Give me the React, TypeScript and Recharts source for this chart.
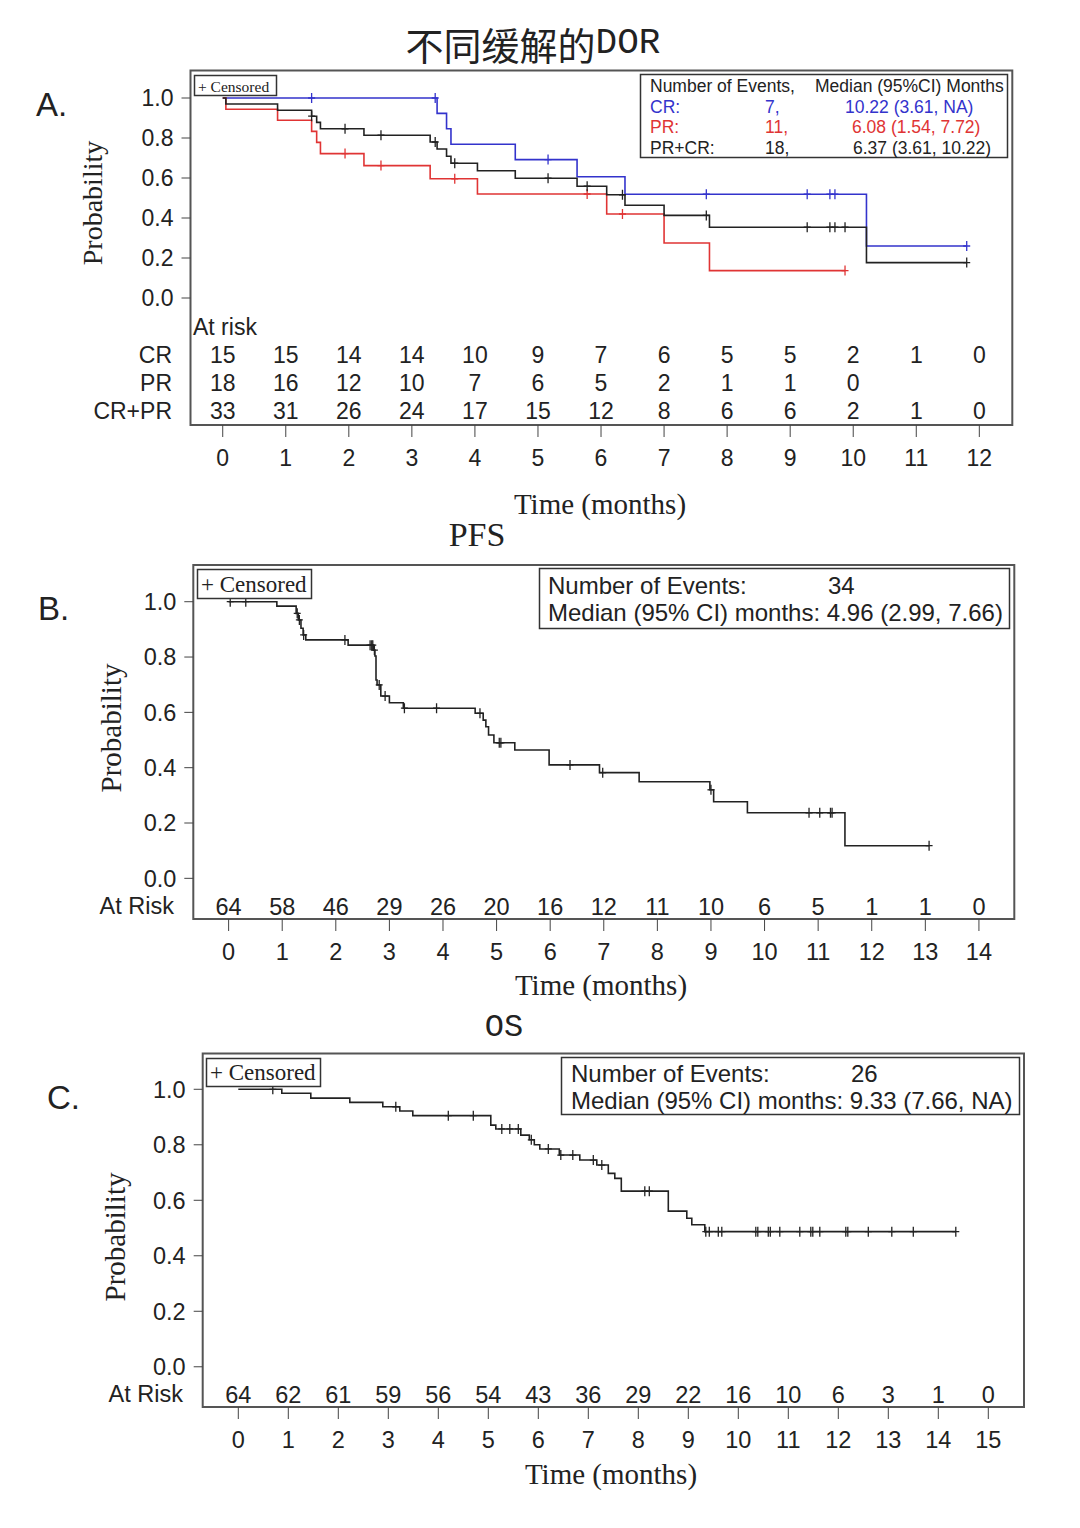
import { ComposedChart, Line, Scatter, XAxis, YAxis, ReferenceArea } from 'recharts';

const SANS = '"Liberation Sans", Arial, sans-serif';
const SERIF = '"Liberation Serif", "Times New Roman", serif';
const MONO = '"Liberation Mono", monospace';
const CJK = '"Noto Sans CJK SC", sans-serif';
const INK = '#222';
const FRAME = '#555';
const BLUE = '#3333cc';
const RED = '#e03434';

// ---- A: duration of response by response type ----
const dorMonths = [0, 1, 2, 3, 4, 5, 6, 7, 8, 9, 10, 11, 12];

const crTimes = [0, 3.40, 3.55, 3.62, 4.64, 5.62, 6.38, 10.21];
const crSurv = [1.0, 0.923, 0.846, 0.769, 0.692, 0.606, 0.519, 0.26];
const crCensored = [1.41, 3.37, 5.16, 7.67, 9.27, 9.63, 9.71, 11.8];

const prTimes = [0, 0.05, 0.87, 1.41, 1.49, 1.55, 2.24, 3.29, 4.04, 6.09, 7.0, 7.72];
const prSurv = [1.0, 0.944, 0.889, 0.833, 0.778, 0.722, 0.662, 0.596, 0.52, 0.42, 0.275, 0.137];
const prCensored = [1.94, 2.51, 3.68, 5.78, 6.34, 9.87];

const bothTimes = [0, 0.05, 0.87, 1.41, 1.49, 1.55, 2.24, 3.29, 3.40, 3.55, 3.62, 4.04, 4.64, 5.62, 6.09, 6.38, 7.0, 7.72, 10.21];
const bothSurv = [1.0, 0.970, 0.939, 0.909, 0.878, 0.846, 0.814, 0.780, 0.745, 0.709, 0.674, 0.636, 0.599, 0.559, 0.516, 0.464, 0.413, 0.354, 0.177];
const bothCensored = [1.41, 1.94, 2.51, 3.37, 3.68, 5.16, 5.78, 6.34, 7.67, 9.27, 9.63, 9.71, 9.87, 11.8];

const riskCR = [15, 15, 14, 14, 10, 9, 7, 6, 5, 5, 2, 1, 0];
const riskPR = [18, 16, 12, 10, 7, 6, 5, 2, 1, 1, 0];
const riskBoth = [33, 31, 26, 24, 17, 15, 12, 8, 6, 6, 2, 1, 0];

// ---- B: PFS ----
const pfsMonths = [0, 1, 2, 3, 4, 5, 6, 7, 8, 9, 10, 11, 12, 13, 14];
const pfsTimes = [0, 0.90, 1.26, 1.30, 1.35, 1.39, 1.44, 2.23, 2.70, 2.73, 2.75, 2.77, 2.84, 3.00, 3.26, 4.60, 4.75, 4.80, 4.85, 4.95, 5.34, 5.98, 6.92, 7.66, 8.98, 9.05, 9.68, 11.50];
const pfsSurv = [1.0, 0.984, 0.958, 0.934, 0.904, 0.880, 0.862, 0.843, 0.825, 0.804, 0.717, 0.699, 0.659, 0.635, 0.615, 0.597, 0.572, 0.548, 0.518, 0.490, 0.464, 0.41, 0.382, 0.349, 0.32, 0.277, 0.237, 0.118];
const pfsCensored = [0.03, 0.32, 1.28, 1.32, 1.40, 2.17, 2.64, 2.67, 2.69, 2.72, 2.81, 2.92, 3.28, 3.88, 4.69, 5.05, 5.08, 6.37, 6.98, 9.00, 10.83, 11.03, 11.23, 11.26, 13.07];
const pfsRisk = [64, 58, 46, 29, 26, 20, 16, 12, 11, 10, 6, 5, 1, 1, 0];

// ---- C: OS ----
const osMonths = [0, 1, 2, 3, 4, 5, 6, 7, 8, 9, 10, 11, 12, 13, 14, 15];
const osTimes = [0, 0.87, 1.45, 2.23, 2.89, 3.23, 3.49, 5.05, 5.15, 5.65, 5.82, 5.92, 6.03, 6.42, 6.83, 7.17, 7.40, 7.53, 7.66, 8.60, 8.97, 9.07, 9.33];
const osSurv = [1.0, 0.986, 0.968, 0.953, 0.937, 0.922, 0.905, 0.871, 0.857, 0.835, 0.818, 0.80, 0.785, 0.763, 0.745, 0.727, 0.697, 0.679, 0.633, 0.561, 0.535, 0.512, 0.487];
const osCensored = [0.69, 3.15, 4.20, 4.70, 5.27, 5.43, 5.60, 5.86, 6.20, 6.45, 6.69, 7.10, 7.27, 8.13, 8.22, 9.35, 9.42, 9.60, 9.67, 10.35, 10.39, 10.60, 10.64, 10.83, 11.23, 11.45, 11.49, 11.63, 12.15, 12.19, 12.60, 13.07, 13.50, 14.35];
const osRisk = [64, 62, 61, 59, 56, 54, 43, 36, 29, 22, 16, 10, 6, 3, 1, 0];

const probTicks = [0, 0.2, 0.4, 0.6, 0.8, 1.0];

type Pt = { t: number; p: number; n?: number };

// step curve, carried on to the last censored time
function curve(times: number[], surv: number[], censored: number[]): Pt[] {
    const pts = times.map((t, i) => ({ t, p: surv[i] }));
    const end = Math.max(...censored);
    if (end > times[times.length - 1]) pts.push({ t: end, p: surv[surv.length - 1] });
    return pts;
}

function marks(times: number[], surv: number[], censored: number[]): Pt[] {
    return censored.map((t) => {
        let p = surv[0];
        times.forEach((et, i) => {
            if (et <= t) p = surv[i];
        });
        return { t, p };
    });
}

const plusShape = (color: string) => (props: any) => {
    const { cx, cy } = props;
    return (
        <g stroke={color} strokeWidth={1.3}>
            <line x1={cx} x2={cx} y1={cy - 5} y2={cy + 5} />
            <line x1={cx - 3.5} x2={cx + 3.5} y1={cy} y2={cy} />
        </g>
    );
};

const riskShape = (fontSize: number) => (props: any) => (
    <text
        x={props.cx}
        y={props.cy}
        textAnchor="middle"
        dominantBaseline="central"
        fontSize={fontSize}
        fontFamily={SANS}
        fill={INK}
    >
        {props.payload.n}
    </text>
);

type Series = { times: number[]; surv: number[]; censored: number[]; color: string };
type RiskRow = { values: number[]; row: number };

interface PanelProps {
    height: number;
    top: number;
    right: number;
    yWidth: number;
    xDomain: [number, number];
    yDomain: [number, number];
    months: number[];
    series: Series[];
    risk: RiskRow[];
    fontSize: number;
    tickMargin: number;
}

function KMPanel(props: PanelProps) {
    const { height, top, right, yWidth, xDomain, yDomain, months, series, risk, fontSize, tickMargin } = props;
    const tickFont = { fontSize, fill: INK, fontFamily: SANS };
    return (
        <div style={{ position: 'absolute', left: 0, top: 0 }}>
            <ComposedChart width={1080} height={height} margin={{ top, right, bottom: 0, left: 0 }}>
                <XAxis
                    type="number"
                    dataKey="t"
                    domain={xDomain}
                    ticks={months}
                    interval={0}
                    allowDataOverflow
                    axisLine={false}
                    tickLine={{ stroke: '#444' }}
                    tickSize={12}
                    tickMargin={tickMargin}
                    height={45}
                    tick={tickFont}
                />
                <YAxis
                    type="number"
                    dataKey="p"
                    domain={yDomain}
                    ticks={probTicks}
                    interval={0}
                    allowDataOverflow
                    width={yWidth}
                    axisLine={false}
                    tickLine={{ stroke: '#444' }}
                    tickSize={9}
                    tickMargin={8}
                    tickFormatter={(v: number) => v.toFixed(1)}
                    tick={tickFont}
                />
                <ReferenceArea
                    x1={xDomain[0]}
                    x2={xDomain[1]}
                    y1={yDomain[0]}
                    y2={yDomain[1]}
                    fill="none"
                    stroke={FRAME}
                    strokeWidth={2}
                    ifOverflow="visible"
                />
                {series.map((s, i) => (
                    <Line
                        key={'l' + i}
                        data={curve(s.times, s.surv, s.censored)}
                        dataKey="p"
                        type="stepAfter"
                        stroke={s.color}
                        strokeWidth={1.6}
                        dot={false}
                        activeDot={false}
                        isAnimationActive={false}
                    />
                ))}
                {series.map((s, i) => (
                    <Scatter
                        key={'c' + i}
                        data={marks(s.times, s.surv, s.censored)}
                        dataKey="p"
                        shape={plusShape(s.color)}
                        isAnimationActive={false}
                    />
                ))}
                {risk.map((r, i) => (
                    <Scatter
                        key={'r' + i}
                        data={r.values.map((n, m) => ({ t: m, p: r.row, n }))}
                        dataKey="p"
                        shape={riskShape(fontSize)}
                        isAnimationActive={false}
                    />
                ))}
            </ComposedChart>
        </div>
    );
}

function T(props: any) {
    const { children, ...rest } = props;
    return (
        <text dominantBaseline="central" fill={INK} fontFamily={SANS} {...rest}>
            {children}
        </text>
    );
}

function Annotations() {
    return (
        <svg width={1080} height={1528} style={{ position: 'absolute', left: 0, top: 0, pointerEvents: 'none' }}>
            {/* panel A */}
            <text x={533} y={43} textAnchor="middle" dominantBaseline="central" fill={INK}>
                <tspan fontFamily={CJK} fontSize={38}>不同缓解的</tspan>
                <tspan fontFamily={MONO} fontSize={36}>DOR</tspan>
            </text>
            <T x={36} y={104} fontSize={33}>A.</T>
            <T x={0} y={0} fontSize={28} fontFamily={SERIF} textAnchor="middle" transform="translate(92,203) rotate(-90)">Probability</T>
            <T x={600} y={504} fontSize={29} fontFamily={SERIF} textAnchor="middle">Time (months)</T>
            <T x={193} y={327} fontSize={23}>At risk</T>
            <T x={172} y={355} fontSize={23} textAnchor="end">CR</T>
            <T x={172} y={383} fontSize={23} textAnchor="end">PR</T>
            <T x={172} y={411} fontSize={23} textAnchor="end">CR+PR</T>
            <rect x={194.5} y={75.5} width={82} height={20} fill="#fff" stroke="#333" strokeWidth={1.5} />
            <T x={198} y={86} fontSize={15.5} fontFamily={SERIF}>+ Censored</T>
            <rect x={640.5} y={74.5} width={367} height={83} fill="#fff" stroke="#333" strokeWidth={1.5} />
            <T x={650} y={86} fontSize={17.5}>Number of Events,</T>
            <T x={815} y={86} fontSize={17.5}>Median (95%CI) Months</T>
            <T x={650} y={107} fontSize={17.5} fill={BLUE}>CR:</T>
            <T x={765} y={107} fontSize={17.5} fill={BLUE}>7,</T>
            <T x={845} y={107} fontSize={17.5} fill={BLUE}>10.22 (3.61, NA)</T>
            <T x={650} y={127} fontSize={17.5} fill={RED}>PR:</T>
            <T x={765} y={127} fontSize={17.5} fill={RED}>11,</T>
            <T x={852} y={127} fontSize={17.5} fill={RED}>6.08 (1.54, 7.72)</T>
            <T x={650} y={148} fontSize={17.5}>PR+CR:</T>
            <T x={765} y={148} fontSize={17.5}>18,</T>
            <T x={853} y={148} fontSize={17.5}>6.37 (3.61, 10.22)</T>

            {/* panel B */}
            <T x={477} y={534} fontSize={34} fontFamily={SERIF} textAnchor="middle">PFS</T>
            <T x={38} y={608} fontSize={33}>B.</T>
            <T x={0} y={0} fontSize={29} fontFamily={SERIF} textAnchor="middle" transform="translate(111,728) rotate(-90)">Probability</T>
            <T x={601} y={985} fontSize={29} fontFamily={SERIF} textAnchor="middle">Time (months)</T>
            <T x={174} y={906} fontSize={23.5} textAnchor="end">At Risk</T>
            <rect x={197.5} y={569.5} width={114} height={29} fill="#fff" stroke="#333" strokeWidth={1.5} />
            <T x={201} y={584} fontSize={23} fontFamily={SERIF}>+ Censored</T>
            <rect x={539.5} y={568.5} width={470} height={60} fill="#fff" stroke="#333" strokeWidth={1.5} />
            <T x={548} y={585} fontSize={24}>Number of Events:</T>
            <T x={828} y={585} fontSize={24}>34</T>
            <T x={548} y={612} fontSize={24}>Median (95% CI) months: 4.96 (2.99, 7.66)</T>

            {/* panel C */}
            <T x={504} y={1027} fontSize={32} fontFamily={MONO} textAnchor="middle">OS</T>
            <T x={47} y={1097} fontSize={33}>C.</T>
            <T x={0} y={0} fontSize={29} fontFamily={SERIF} textAnchor="middle" transform="translate(115,1237) rotate(-90)">Probability</T>
            <T x={611} y={1474} fontSize={29} fontFamily={SERIF} textAnchor="middle">Time (months)</T>
            <T x={183} y={1394} fontSize={23.5} textAnchor="end">At Risk</T>
            <rect x={206.5} y={1058.5} width={114} height={28} fill="#fff" stroke="#333" strokeWidth={1.5} />
            <T x={210} y={1072.5} fontSize={23} fontFamily={SERIF}>+ Censored</T>
            <rect x={561.5} y={1057.5} width={458} height={57} fill="#fff" stroke="#333" strokeWidth={1.5} />
            <T x={571} y={1073} fontSize={24}>Number of Events:</T>
            <T x={851} y={1073} fontSize={24}>26</T>
            <T x={571} y={1100} fontSize={24}>Median (95% CI) months: 9.33 (7.66, NA)</T>
        </svg>
    );
}

export default function App() {
    return (
        <div style={{ position: 'absolute', left: 0, top: 0, width: 1080, height: 1528, background: '#fff', overflow: 'hidden' }}>
            <KMPanel
                height={470}
                top={70.5}
                right={67.7}
                yWidth={190.5}
                xDomain={[-0.511, 12.523]}
                yDomain={[-0.635, 1.1375]}
                months={dorMonths}
                series={[
                    { times: crTimes, surv: crSurv, censored: crCensored, color: BLUE },
                    { times: prTimes, surv: prSurv, censored: prCensored, color: RED },
                    { times: bothTimes, surv: bothSurv, censored: bothCensored, color: INK },
                ]}
                risk={[
                    { values: riskCR, row: -0.285 },
                    { values: riskPR, row: -0.425 },
                    { values: riskBoth, row: -0.565 },
                ]}
                fontSize={23}
                tickMargin={12.5}
            />
            <KMPanel
                height={964}
                top={565}
                right={65.7}
                yWidth={193.3}
                xDomain={[-0.659, 14.66]}
                yDomain={[-0.147, 1.1327]}
                months={pfsMonths}
                series={[{ times: pfsTimes, surv: pfsSurv, censored: pfsCensored, color: INK }]}
                risk={[{ values: pfsRisk, row: -0.102 }]}
                fontSize={23.5}
                tickMargin={12.3}
            />
            <KMPanel
                height={1452}
                top={1053.5}
                right={56}
                yWidth={202.7}
                xDomain={[-0.712, 15.714]}
                yDomain={[-0.145, 1.129]}
                months={osMonths}
                series={[{ times: osTimes, surv: osSurv, censored: osCensored, color: INK }]}
                risk={[{ values: osRisk, row: -0.1 }]}
                fontSize={23.5}
                tickMargin={12.5}
            />
            <Annotations />
        </div>
    );
}
